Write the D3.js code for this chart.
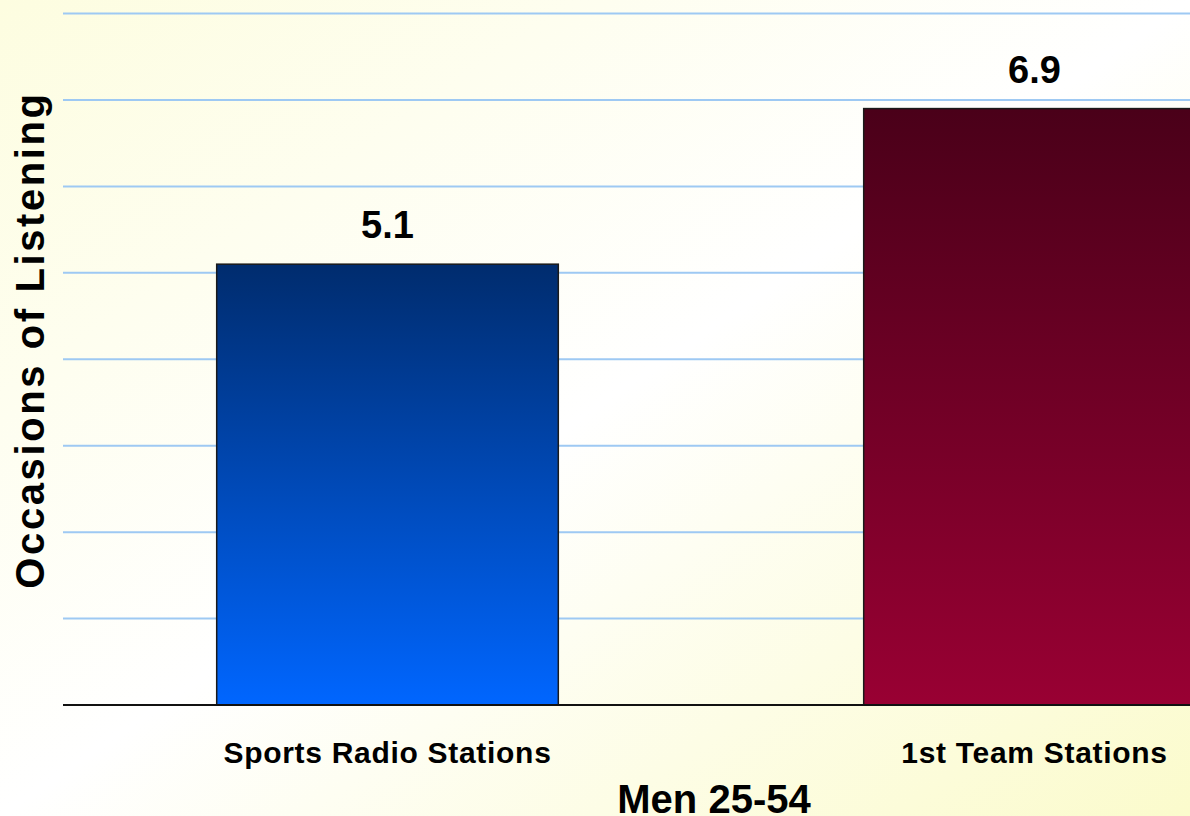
<!DOCTYPE html>
<html>
<head>
<meta charset="utf-8">
<script src="https://cdn.jsdelivr.net/npm/d3@7"></script>
<style>
  html, body { margin: 0; padding: 0; overflow: hidden; background: #fff; }
  svg { display: block; font-family: "Liberation Sans", Arial, Helvetica, sans-serif; }
</style>
</head>
<body>
<svg id="chart" width="1190" height="816"></svg>
<script>
// Occasions of listening, men 25-54
const categories = ["Sports Radio Stations", "1st Team Stations"];
const values = [5.1, 6.9];
const valueLabels = ["5.1", "6.9"];
const gridTicks = [1, 2, 3, 4, 5, 6, 7, 8];
const yTitle = "Occasions of Listening";
const xTitle = "Men 25-54";

const W = 1190, H = 816;
const svg = d3.select("#chart");
const defs = svg.append("defs");

// Background: pale yellow corners, white along the rising diagonal
const bg = defs.append("linearGradient").attr("id", "bg")
  .attr("x1", 0).attr("y1", 0).attr("x2", 1).attr("y2", 1);
bg.append("stop").attr("offset", "0%").attr("stop-color", "#fdfde0");
bg.append("stop").attr("offset", "50%").attr("stop-color", "#ffffff");
bg.append("stop").attr("offset", "100%").attr("stop-color", "#fbfbcc");
svg.append("rect").attr("width", W).attr("height", H).attr("fill", "url(#bg)");

// Bar fills: dark at the top, bright at the base
const barColors = [["#002c6e", "#0066ff"], ["#4a0019", "#990033"]];
barColors.forEach((c, i) => {
  const g = defs.append("linearGradient").attr("id", "bar" + i)
    .attr("x1", 0).attr("y1", 0).attr("x2", 0).attr("y2", 1);
  g.append("stop").attr("offset", "0%").attr("stop-color", c[0]);
  g.append("stop").attr("offset", "100%").attr("stop-color", c[1]);
});

// Plot area runs past the right edge of the page
const plot = { left: 64, right: 1358, top: 13.5, bottom: 705 };

const x = d3.scaleBand()
  .domain(categories)
  .range([plot.left, plot.right])
  .paddingInner(0.472)
  .paddingOuter(0.236);

const y = d3.scaleLinear()
  .domain([0, 8])
  .range([plot.bottom, plot.top]);

// Horizontal gridlines
svg.append("g").selectAll("line")
  .data(gridTicks)
  .join("line")
  .attr("x1", plot.left - 1).attr("x2", plot.right)
  .attr("y1", d => y(d)).attr("y2", d => y(d))
  .attr("stroke", "#9ec9f3")
  .attr("stroke-width", 2);

// Bars
svg.append("g").selectAll("rect")
  .data(values)
  .join("rect")
  .attr("x", (d, i) => x(categories[i]))
  .attr("y", d => y(d))
  .attr("width", x.bandwidth())
  .attr("height", d => y(0) - y(d))
  .attr("fill", (d, i) => `url(#bar${i})`)
  .attr("stroke", "#1a1a1a")
  .attr("stroke-width", 1.5);

// Category axis line (no ticks)
const xAxis = d3.axisBottom(x).tickSize(0).tickFormat("");
svg.append("g")
  .attr("transform", `translate(0,${y(0)})`)
  .call(xAxis)
  .call(g => g.select(".domain")
    .attr("d", `M${plot.left - 1},0H${plot.right}`)
    .attr("stroke", "#111")
    .attr("stroke-width", 2));

// Category labels
svg.append("g").selectAll("text")
  .data(categories)
  .join("text")
  .attr("x", d => x(d) + x.bandwidth() / 2)
  .attr("y", 763)
  .attr("text-anchor", "middle")
  .attr("font-size", 30)
  .attr("font-weight", "bold")
  .attr("letter-spacing", 0.7)
  .attr("fill", "#000")
  .text(d => d);

// Value labels above bars
svg.append("g").selectAll("text")
  .data(values)
  .join("text")
  .attr("x", (d, i) => x(categories[i]) + x.bandwidth() / 2)
  .attr("y", d => y(d) - 26)
  .attr("text-anchor", "middle")
  .attr("font-size", 38)
  .attr("font-weight", "bold")
  .attr("fill", "#000")
  .text((d, i) => valueLabels[i]);

// Axis titles
svg.append("text")
  .attr("x", 714)
  .attr("y", 813)
  .attr("text-anchor", "middle")
  .attr("font-size", 40)
  .attr("font-weight", "bold")
  .attr("fill", "#000")
  .text(xTitle);

svg.append("text")
  .attr("transform", "translate(44,340) rotate(-90)")
  .attr("text-anchor", "middle")
  .attr("font-size", 40)
  .attr("font-weight", "bold")
  .attr("letter-spacing", 2.6)
  .attr("fill", "#000")
  .text(yTitle);
</script>
</body>
</html>
